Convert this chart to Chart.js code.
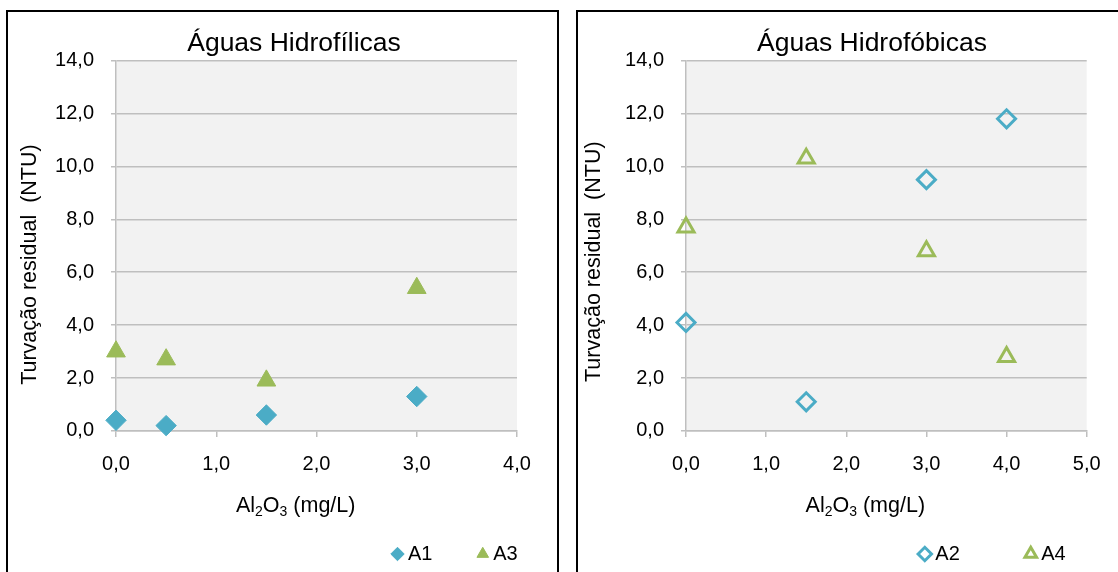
<!DOCTYPE html>
<html>
<head>
<meta charset="utf-8">
<script src="https://cdn.jsdelivr.net/npm/chart.js@4.4.1/dist/chart.umd.min.js"></script>
<style>
  html, body { margin: 0; padding: 0; background: #fff; width: 1118px; height: 572px; overflow: hidden; }
  .box { position: absolute; top: 10px; height: 600px; border: 2px solid #000; border-bottom: none; }
  #boxL { left: 6px; width: 549px; }
  #boxR { left: 576px; width: 600px; border-right: none; }
  .box canvas { position: absolute; left: 0; top: 0; }
</style>
</head>
<body>
<div class="box" id="boxL"><canvas id="chartL" width="549" height="560"></canvas></div>
<div class="box" id="boxR"><canvas id="chartR" width="540" height="560"></canvas></div>
<script>
// data
const xHidrofilicas = [0.0, 0.5, 1.5, 3.0];
const a1 = [0.4, 0.2, 0.6, 1.3];
const a3 = [3.0, 2.7, 1.9, 5.4];

const xHidrofobicas = [0.0, 1.5, 3.0, 4.0];
const a2 = [4.1, 1.1, 9.5, 11.8];
const a4 = [7.7, 10.3, 6.8, 2.8];

const yTitle = 'Turvação residual  (NTU)';
// [text, isSubscript]
const xTitleParts = [['Al', 0], ['2', 1], ['O', 0], ['3', 1], [' (mg/L)', 0]];

const blue = '#4BACC6';
const green = '#9BBB59';
const gridGray = '#BFBFBF';
const FONT = '"Liberation Sans", Arial, sans-serif';

Chart.defaults.font.family = FONT;
Chart.defaults.color = '#000';

function fmt(v) {
  return Number(v).toFixed(1).replace('.', ',');
}

function pts(xs, ys) {
  return xs.map((x, i) => ({x: x, y: ys[i]}));
}

//plot area background
const plotBg = {
  id: 'plotBg',
  beforeDraw(chart) {
    const a = chart.chartArea;
    const ctx = chart.ctx;
    ctx.save();
    ctx.fillStyle = '#F2F2F2';
    ctx.fillRect(a.left, a.top, a.right - a.left, a.bottom - a.top);
    ctx.restore();
  }
};

//move title and legend to where excel put them
const placeBoxes = {
  id: 'placeBoxes',
  afterLayout(chart, args, o) {
    const t = chart.titleBlock;
    t.left = o.titleX - 260;
    t.right = o.titleX + 260;
    const lg = chart.legend;
    const p = lg.options.labels.padding;
    lg.left = o.legendX - 0.5 - p;
    lg.right = lg.left + 600;
    lg.top = o.legendY - 10 - p;
    lg.bottom = lg.top + p + 40;
    lg.width = lg.right - lg.left;
    lg.height = lg.bottom - lg.top;
  }
};

//axis titles (x title has subscripts)
const axisTitles = {
  id: 'axisTitles',
  afterDraw(chart, args, o) {
    const ctx = chart.ctx;
    const fonts = ['21.5px ' + FONT, '14px ' + FONT];
    ctx.save();
    ctx.fillStyle = '#000';
    ctx.textBaseline = 'middle';

    ctx.save();
    ctx.font = fonts[0];
    ctx.translate(o.yX, o.yY);
    ctx.rotate(-Math.PI / 2);
    ctx.textAlign = 'center';
    ctx.fillText(yTitle, 0, 0);
    ctx.restore();

    ctx.textAlign = 'left';
    let w = 0;
    xTitleParts.forEach(([s, sub]) => {
      ctx.font = fonts[sub];
      w += ctx.measureText(s).width;
    });
    let x = o.xX - w / 2;
    xTitleParts.forEach(([s, sub]) => {
      ctx.font = fonts[sub];
      ctx.fillText(s, x, o.xY + (sub ? 6 : 0));
      x += ctx.measureText(s).width;
    });
    ctx.restore();
  }
};

function buildChart(id, title, xs, series, xMax, lay) {
  return new Chart(document.getElementById(id), {
    type: 'scatter',
    data: {
      datasets: series.map(s => ({
        label: s.label,
        data: pts(xs, s.values),
        pointStyle: s.style,
        pointRadius: s.radius,
        pointHoverRadius: s.radius,
        borderWidth: s.border,
        pointBorderWidth: s.border,
        borderColor: s.color,
        backgroundColor: s.filled ? s.color : 'rgba(0,0,0,0)',
        showLine: false,
        clip: false
      }))
    },
    options: {
      responsive: false,
      animation: false,
      devicePixelRatio: 1,
      events: [],
      layout: {padding: {left: 0, top: 0, right: lay.padRight, bottom: 0}},
      scales: {
        x: {
          type: 'linear',
          min: 0,
          max: xMax,
          ticks: {stepSize: 1, padding: 16, color: '#000', font: {size: 20}, callback: v => fmt(v)},
          grid: {drawOnChartArea: false, drawTicks: true, tickLength: 6, color: gridGray, lineWidth: 1.5},
          border: {display: true, color: gridGray, width: 1.5},
          afterFit: s => { s.height = 101.1; }
        },
        y: {
          type: 'linear',
          min: 0,
          max: 14,
          ticks: {stepSize: 2, padding: 17, color: '#000', font: {size: 20}, callback: v => fmt(v)},
          grid: {drawTicks: true, tickLength: 5, color: gridGray, lineWidth: 1.5},
          border: {display: true, color: gridGray, width: 1.5},
          afterFit: s => { s.width = 108; }
        }
      },
      plugins: {
        title: {
          display: true,
          text: title,
          color: '#000',
          font: {size: 26.5, weight: 'normal'},
          padding: {top: 15.4, bottom: 1.4}
        },
        legend: {
          position: 'bottom',
          align: 'start',
          maxHeight: 40,
          labels: {
            usePointStyle: true,
            boxWidth: 1,
            boxHeight: 9.5,
            padding: lay.legendGap,
            color: '#000',
            font: {size: 20}
          }
        },
        tooltip: {enabled: false},
        placeBoxes: {titleX: lay.titleX, legendX: lay.legendX, legendY: 542},
        axisTitles: {yX: lay.yTitleX, yY: lay.yTitleY, xX: lay.xTitleX, xY: 494}
      }
    },
    plugins: [plotBg, placeBoxes, axisTitles]
  });
}

buildChart('chartL', 'Águas Hidrofílicas', xHidrofilicas, [
  {label: 'A1', values: a1, style: 'rectRot', radius: 10.2, border: 1, color: blue, filled: true},
  {label: 'A3', values: a3, style: 'triangle', radius: 10.8, border: 1, color: green, filled: true}
], 4, {padRight: 40, titleX: 286, legendX: 389.5, legendGap: 49.8, yTitleX: 22.5, yTitleY: 252.6, xTitleX: 287.7});

buildChart('chartR', 'Águas Hidrofóbicas', xHidrofobicas, [
  {label: 'A2', values: a2, style: 'rectRot', radius: 9, border: 3, color: blue, filled: false},
  {label: 'A4', values: a4, style: 'triangle', radius: 9.3, border: 3, color: green, filled: false}
], 5, {padRight: 31.3, titleX: 294, legendX: 346.8, legendGap: 70.5, yTitleX: 16.5, yTitleY: 249.7, xTitleX: 287.3});
</script>
</body>
</html>
